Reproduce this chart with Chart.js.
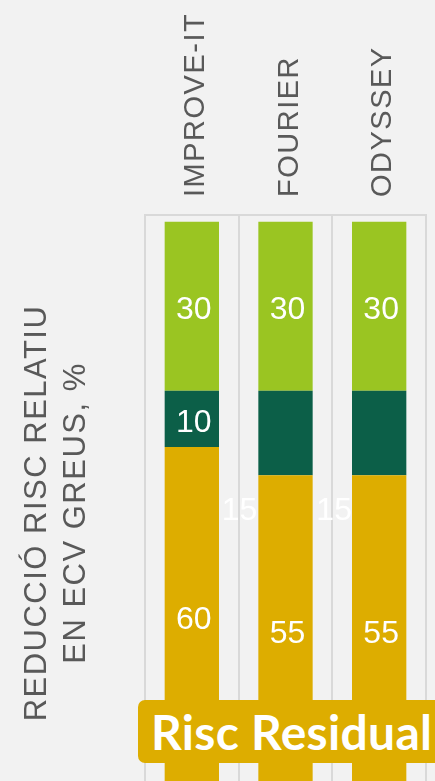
<!DOCTYPE html>
<html lang="ca">
<head>
<meta charset="utf-8">
<title>Reducció risc relatiu en ECV greus</title>
<script src="https://cdn.jsdelivr.net/npm/chart.js@4.4.1/dist/chart.umd.min.js"></script>
<style>
  html, body { margin: 0; padding: 0; overflow: hidden; background: #f2f2f2; }
  #wrap { position: relative; width: 435px; height: 811px; }
  #etiqueta {
    position: absolute; left: 138px; top: 700px; width: 305px; height: 63px;
    background: #ddad00; border-radius: 7px; color: #fff;
    font: bold 48px Lato, "Open Sans", sans-serif; letter-spacing: 0.3px;
    display: flex; align-items: center; padding-left: 13px; box-sizing: border-box;
    white-space: nowrap;
  }
</style>
</head>
<body>
<div id="wrap">
  <canvas id="graficRisc"></canvas>
  <div id="etiqueta">Risc Residual</div>
</div>
<script>
const estudis = ['IMPROVE-IT', 'FOURIER', 'ODYSSEY'];
const riscResidual = [60, 55, 55];
const reduccioAddicional = [10, 15, 15];
const reduccioEstatines = [30, 30, 30];

const groc = '#ddad00';
const verdFosc = '#0c5f48';
const verdClar = '#9ac522';

// xifres blanques al mig de cada tram
const etiquetesValors = {
  id: 'etiquetesValors',
  beforeDraw(chart) {
    chart.ctx.letterSpacing = '1.5px';
  },
  beforeDatasetsDraw(chart) {
    chart.ctx.letterSpacing = '0px';
  },
  afterDatasetsDraw(chart) {
    const ctx = chart.ctx;
    ctx.save();
    ctx.font = '32px Arial, "Liberation Sans", sans-serif';
    ctx.fillStyle = '#ffffff';
    ctx.textAlign = 'center';
    ctx.textBaseline = 'middle';
    chart.data.datasets.forEach((ds, i) => {
      const meta = chart.getDatasetMeta(i);
      meta.data.forEach((bar, j) => {
        const despl = ds.desplacament ? ds.desplacament[j] : [0, 0];
        ctx.fillText(ds.data[j], bar.x + 2 + despl[0], (bar.y + bar.base) / 2 + 4 + despl[1]);
      });
    });
    ctx.restore();
  }
};

new Chart(document.getElementById('graficRisc'), {
  type: 'bar',
  data: {
    labels: estudis,
    datasets: [
      { label: 'Risc residual', data: riscResidual, backgroundColor: groc },
      { label: 'Reducció addicional', data: reduccioAddicional, backgroundColor: verdFosc,
        desplacament: [[0, 0], [-48, 74], [-47, 74]] },
      { label: 'Reducció estatines', data: reduccioEstatines, backgroundColor: verdClar }
    ]
  },
  options: {
    responsive: true,
    maintainAspectRatio: false,
    animation: false,
    datasets: { bar: { categoryPercentage: 1, barPercentage: 0.58 } },
    layout: { padding: { left: 0, top: 0, right: 9, bottom: 0 } },
    plugins: { legend: { display: false }, tooltip: { enabled: false } },
    scales: {
      x: {
        position: 'top',
        stacked: true,
        grid: { color: '#d9d9d9', lineWidth: 2, drawTicks: false, offset: true },
        border: { display: true, color: '#d9d9d9', width: 2 },
        ticks: {
          color: '#595959',
          font: { family: 'Arial, "Liberation Sans", sans-serif', size: 29 },
          minRotation: 90, maxRotation: 90, padding: 18, autoSkip: false,
          labelOffset: 39
        },
        afterFit: s => { s.height = 215; }
      },
      y: {
        stacked: true,
        min: -4.6,
        max: 101.2,
        ticks: { display: false },
        grid: { display: false },
        border: { display: false },
        title: {
          display: true,
          text: ['REDUCCIÓ RISC RELATIU', 'EN ECV GREUS, %'],
          color: '#595959',
          font: { family: 'Arial, "Liberation Sans", sans-serif', size: 31, lineHeight: 1.25 },
          padding: { top: 18, bottom: 0 }
        },
        afterFit: s => { s.width = 145; }
      }
    }
  },
  plugins: [etiquetesValors]
});
</script>
</body>
</html>
